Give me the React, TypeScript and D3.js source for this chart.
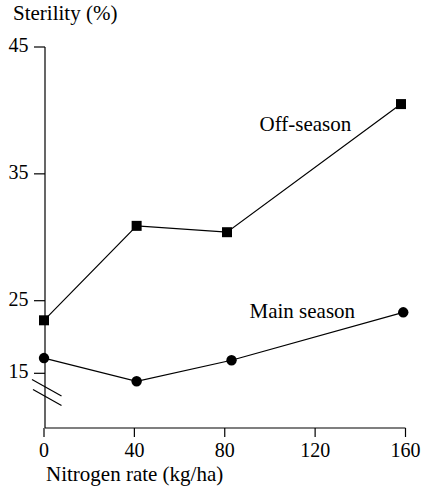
import * as d3 from 'd3'

// values
const xTicks = [0, 40, 80, 120, 160]
const yTicks = [45, 35, 25, 15]

const offSeasonN = [0, 41, 81, 158]
const offSeason = [22.3, 30.9, 30.4, 40.5]

const mainSeasonN = [0, 41, 83, 159]
const mainSeason = [17.1, 13.9, 16.8, 23.4]

const width = 425
const height = 489
const font = '"Liberation Serif", Tinos, "Nimbus Roman", "DejaVu Serif", "Noto Serif", serif'

const App = () => {
  const axisY = 428
  const x = d3.scaleLinear().domain([0, 160]).range([44, 405.5])
  // broken axis: lower part is compressed
  const y = d3.scaleLinear().domain([15, 25, 45]).range([373.3, 300.7, 47])

  const line = d3
    .line<[number, number]>()
    .x((d) => x(d[0]))
    .y((d) => y(d[1]))

  const off = offSeasonN.map((n, i) => [n, offSeason[i]] as [number, number])
  const main = mainSeasonN.map((n, i) => [n, mainSeason[i]] as [number, number])
  const square = d3.symbol(d3.symbolSquare, 100)()
  const txt = { fontFamily: font }

  return (
    <svg
      width={width}
      height={height}
      style={{ position: 'absolute', left: 0, top: 0, background: '#fff', fontFamily: font }}
    >
      {/* y axis */}
      <line x1={45} x2={45} y1={y(45)} y2={axisY} stroke="#000" strokeWidth={1.2} />
      {yTicks.map((t) => (
        <g key={t}>
          <line x1={34} x2={45} y1={y(t)} y2={y(t)} stroke="#000" strokeWidth={1.2} />
          <text x={28.5} y={y(t) + 5} textAnchor="end" fontSize={20} style={txt}>
            {t}
          </text>
        </g>
      ))}
      {/* break marks */}
      <line x1={32} y1={379.5} x2={61.5} y2={396} stroke="#000" strokeWidth={1.2} />
      <line x1={33} y1={389.5} x2={61.5} y2={405.5} stroke="#000" strokeWidth={1.2} />

      {/* x axis */}
      <line x1={45} x2={x(160)} y1={axisY} y2={axisY} stroke="#000" strokeWidth={1.2} />
      {xTicks.map((t) => (
        <g key={t}>
          <line x1={x(t)} x2={x(t)} y1={axisY} y2={axisY + 9} stroke="#000" strokeWidth={1.2} />
          <text x={x(t)} y={457} textAnchor="middle" fontSize={20} style={txt}>
            {t}
          </text>
        </g>
      ))}

      <text x={13} y={20} fontSize={21} style={txt}>
        Sterility (%)
      </text>
      <text x={46} y={481} fontSize={21} style={txt}>
        Nitrogen rate (kg/ha)
      </text>

      {/* series */}
      <path d={line(off) ?? ''} fill="none" stroke="#000" strokeWidth={1.2} />
      <path d={line(main) ?? ''} fill="none" stroke="#000" strokeWidth={1.2} />
      {off.map((d, i) => (
        <path key={i} d={square ?? ''} transform={`translate(${x(d[0])},${y(d[1])})`} fill="#000" />
      ))}
      {main.map((d, i) => (
        <circle key={i} cx={x(d[0])} cy={y(d[1])} r={5.2} fill="#000" />
      ))}

      <text x={259.5} y={131} fontSize={21} style={txt}>
        Off-season
      </text>
      <text x={249.5} y={318} fontSize={21} style={txt}>
        Main season
      </text>
    </svg>
  )
}

export default App
